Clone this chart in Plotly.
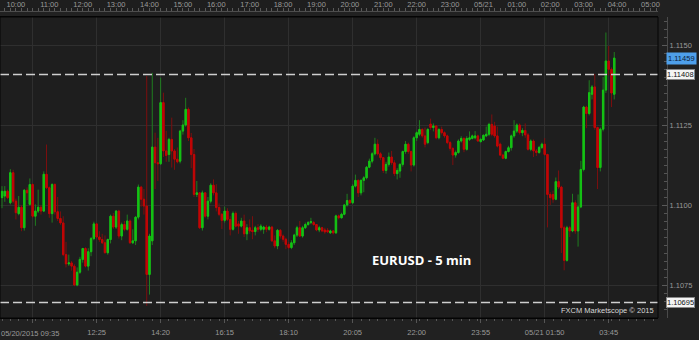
import pandas as pd
import plotly.graph_objects as go

# ---------------- data (EURUSD 5-min candles, prices given in pips above 1.1000) ----------------
start_time = "2015-05-20 09:35"
n_candles = 221
times = pd.date_range(start_time, periods=n_candles, freq="5min")

open_pips = [
    102.3, 102.8, 104.3, 100.7, 110.1, 101.2, 97.3, 99.3, 92.9, 104.6,
    100.2, 106.4, 96.5, 98.1, 99.3, 98.1, 109.6, 105.4, 97.3, 106.4,
    97.9, 95.8, 94.4, 84.5, 81.6, 81.9, 80.9, 75.0, 79.0, 83.0,
    86.4, 80.9, 85.4, 89.5, 94.1, 90.0, 89.2, 88.2, 85.1, 89.2,
    96.5, 93.1, 98.1, 90.3, 93.9, 92.4, 95.0, 88.2, 88.8, 96.2,
    105.6, 101.8, 99.7, 78.3, 88.8, 118.1, 113.2, 112.9, 132.0, 116.9,
    115.8, 120.5, 116.9, 114.3, 113.7, 123.1, 125.0, 129.9, 121.0, 115.8,
    103.3, 103.8, 92.9, 103.8, 96.5, 101.2, 106.2, 103.8, 99.2, 97.1,
    95.2, 98.1, 95.5, 92.4, 97.4, 94.1, 93.4, 95.0, 91.0, 92.9,
    92.1, 91.7, 92.9, 92.4, 92.4, 93.1, 92.4, 93.1, 88.8, 87.2,
    92.1, 90.3, 89.3, 87.7, 86.7, 88.2, 90.6, 92.9, 90.3, 92.9,
    93.9, 94.5, 94.5, 93.9, 92.2, 92.9, 92.2, 92.1, 91.3, 91.9,
    91.3, 96.6, 96.0, 97.1, 100.0, 101.4, 100.7, 105.9, 107.7, 103.8,
    107.7, 108.5, 111.8, 113.7, 116.0, 119.0, 116.0, 114.8, 110.8, 112.7,
    115.0, 113.2, 109.8, 110.6, 112.7, 116.7, 119.0, 116.7, 112.5, 121.0,
    122.1, 123.6, 121.6, 119.5, 125.3, 124.2, 124.7, 121.0, 123.6, 122.6,
    121.6, 119.5, 117.7, 115.6, 116.4, 120.0, 120.8, 117.4, 120.5, 120.8,
    121.0, 121.6, 119.8, 120.3, 121.6, 122.1, 125.2, 124.7, 121.6, 119.0,
    115.6, 114.6, 116.7, 117.9, 121.6, 123.1, 125.0, 122.6, 123.3, 121.9,
    117.4, 120.0, 116.9, 116.4, 118.0, 119.0, 115.8, 103.3, 103.3, 101.8,
    107.3, 105.6, 92.9, 82.7, 92.9, 91.9, 100.7, 91.9, 99.4, 111.1,
    130.6, 128.6, 134.6, 136.9, 124.2, 111.7, 123.7, 135.9, 145.0, 142.4,
    134.6,
]
high_pips = [
    105.9, 105.9, 104.8, 111.2, 111.0, 102.0, 102.8, 100.0, 105.0, 105.5,
    108.3, 106.8, 100.2, 104.8, 100.0, 110.5, 118.9, 105.8, 106.8, 106.8,
    102.5, 98.0, 96.5, 88.5, 84.5, 82.5, 81.5, 80.5, 83.8, 86.6,
    86.8, 86.5, 90.0, 94.8, 94.3, 91.8, 91.0, 90.5, 89.5, 97.0,
    97.5, 98.4, 98.5, 94.5, 95.0, 97.0, 95.5, 92.4, 96.5, 106.4,
    106.0, 105.0, 140.3, 91.0, 141.3, 122.6, 121.0, 139.8, 135.1, 123.2,
    121.0, 127.3, 117.5, 118.0, 123.5, 126.5, 133.5, 130.5, 122.5, 117.5,
    107.5, 104.0, 104.5, 104.0, 102.5, 106.8, 108.0, 106.5, 100.5, 97.5,
    99.5, 99.0, 96.5, 98.0, 98.0, 95.0, 96.0, 97.0, 94.0, 95.5,
    96.5, 93.5, 94.0, 94.0, 93.5, 93.8, 93.5, 93.5, 90.5, 92.5,
    92.5, 90.8, 89.8, 88.5, 89.0, 91.0, 93.5, 95.0, 93.5, 94.5,
    95.0, 96.0, 95.0, 94.0, 93.5, 93.2, 92.9, 92.8, 92.3, 92.2,
    97.0, 97.0, 97.6, 100.3, 103.5, 101.8, 106.5, 109.5, 108.0, 108.0,
    109.0, 112.2, 114.5, 116.5, 121.0, 120.5, 116.5, 115.0, 113.5, 116.4,
    116.9, 114.0, 111.5, 113.0, 117.0, 120.0, 119.5, 117.0, 121.5, 123.0,
    126.5, 124.0, 124.2, 124.0, 127.0, 125.5, 125.0, 124.0, 124.5, 123.0,
    122.0, 120.0, 118.0, 117.0, 120.5, 121.5, 121.2, 121.5, 123.0, 122.0,
    123.1, 122.0, 121.0, 122.0, 124.5, 125.7, 128.3, 126.0, 124.5, 119.5,
    116.0, 117.0, 118.5, 122.0, 126.5, 125.5, 125.5, 124.0, 125.5, 122.5,
    120.5, 120.5, 117.5, 118.5, 119.5, 120.9, 116.0, 104.0, 104.5, 108.6,
    110.8, 106.0, 93.5, 93.5, 93.5, 103.5, 101.5, 103.3, 113.8, 131.0,
    131.0, 139.0, 137.5, 140.9, 124.5, 124.2, 140.0, 153.9, 149.7, 143.0,
    147.8,
]
low_pips = [
    99.0, 101.0, 101.8, 100.2, 100.5, 95.5, 96.8, 91.8, 92.0, 101.5,
    99.8, 96.0, 93.5, 97.5, 97.0, 97.8, 105.0, 96.0, 94.5, 97.0,
    95.0, 93.8, 84.0, 80.5, 81.0, 79.5, 74.6, 74.6, 78.5, 82.0,
    80.5, 79.5, 84.0, 89.0, 89.5, 88.5, 87.8, 84.8, 84.5, 88.0,
    92.5, 92.5, 89.5, 89.0, 91.8, 92.0, 87.8, 87.8, 87.5, 95.5,
    99.5, 97.0, 68.5, 72.0, 87.5, 105.0, 107.5, 112.5, 115.0, 113.5,
    113.5, 111.7, 111.0, 113.0, 113.0, 122.0, 124.5, 120.0, 111.5, 102.5,
    102.5, 92.5, 92.0, 96.0, 95.5, 100.5, 103.0, 98.0, 96.5, 92.5,
    94.5, 95.0, 90.5, 92.0, 93.0, 91.0, 93.0, 90.0, 89.0, 91.0,
    89.3, 90.5, 91.5, 91.8, 91.0, 91.5, 92.0, 88.5, 86.5, 86.2,
    89.5, 88.5, 86.2, 86.2, 86.2, 87.5, 90.0, 90.0, 89.8, 92.5,
    93.5, 94.0, 93.5, 91.8, 91.5, 91.5, 91.0, 91.3, 91.0, 90.8,
    91.0, 95.5, 95.8, 96.8, 99.5, 100.3, 100.3, 105.5, 102.5, 103.0,
    104.0, 108.0, 111.5, 113.0, 115.5, 115.5, 114.0, 110.0, 109.8, 112.0,
    112.5, 109.0, 108.0, 108.5, 112.0, 116.0, 116.0, 110.5, 112.0, 120.0,
    121.5, 121.0, 118.0, 119.0, 123.5, 123.0, 120.5, 120.5, 122.0, 121.0,
    119.0, 117.0, 112.5, 114.8, 116.0, 119.5, 116.5, 117.0, 120.0, 120.5,
    120.5, 119.8, 119.5, 120.0, 121.2, 121.5, 121.5, 121.0, 118.0, 115.3,
    114.3, 114.3, 116.4, 117.0, 121.0, 122.5, 122.0, 121.5, 121.0, 117.0,
    116.8, 115.0, 115.3, 116.0, 117.5, 115.3, 93.0, 100.0, 100.7, 101.5,
    105.0, 85.0, 79.6, 82.3, 90.0, 91.5, 91.0, 87.0, 99.0, 110.5,
    124.0, 128.0, 133.0, 123.5, 105.0, 110.5, 123.0, 135.0, 140.5, 130.6,
    133.0,
]
close_pips = [
    104.3, 104.3, 102.3, 110.1, 101.2, 97.6, 99.3, 92.9, 104.6, 103.8,
    106.4, 96.5, 98.1, 99.3, 98.1, 109.6, 105.4, 97.3, 106.4, 97.9,
    95.8, 94.4, 84.5, 81.6, 81.9, 80.9, 75.0, 79.0, 83.0, 86.4,
    80.9, 85.4, 89.5, 94.1, 90.0, 89.2, 88.2, 85.1, 89.2, 96.5,
    93.1, 98.1, 90.3, 93.9, 92.4, 95.0, 88.2, 88.8, 96.2, 105.6,
    101.8, 99.7, 78.3, 90.3, 118.1, 113.2, 112.9, 132.0, 116.9, 115.5,
    120.5, 116.9, 114.3, 113.5, 123.1, 125.0, 129.9, 121.0, 115.8, 103.3,
    103.8, 92.9, 103.8, 96.5, 101.2, 106.2, 103.8, 99.2, 97.1, 95.2,
    98.1, 95.5, 92.4, 97.4, 93.4, 93.4, 95.0, 91.0, 92.9, 91.9,
    91.7, 92.9, 92.4, 93.4, 93.1, 92.4, 93.1, 88.8, 87.2, 92.1,
    90.3, 89.3, 87.7, 86.7, 88.2, 90.6, 92.9, 90.3, 92.9, 93.9,
    94.5, 94.8, 93.9, 92.2, 92.9, 91.9, 91.6, 91.6, 91.9, 91.3,
    96.6, 96.0, 97.1, 100.0, 101.4, 100.7, 105.9, 107.7, 103.8, 107.7,
    108.5, 111.8, 113.7, 116.0, 119.0, 116.0, 114.8, 110.8, 112.7, 115.0,
    113.2, 109.8, 110.8, 112.7, 116.7, 119.0, 116.7, 112.5, 121.0, 122.6,
    123.6, 121.6, 119.0, 123.6, 124.2, 124.7, 121.0, 123.6, 122.6, 121.6,
    119.5, 117.7, 115.6, 116.4, 120.0, 120.8, 117.4, 120.8, 121.0, 121.6,
    121.6, 120.0, 120.5, 121.8, 122.1, 125.2, 122.1, 121.6, 118.4, 115.6,
    114.6, 116.7, 117.9, 121.6, 123.1, 125.0, 122.6, 123.3, 121.9, 117.4,
    120.0, 116.9, 116.4, 118.0, 119.0, 115.8, 103.3, 102.3, 101.8, 107.3,
    105.6, 92.9, 82.7, 92.9, 91.9, 100.7, 91.9, 99.4, 111.1, 130.6,
    128.6, 135.1, 136.9, 124.2, 111.7, 123.7, 135.9, 145.0, 142.4, 135.0,
    145.9,
]
for arr in (open_pips, high_pips, low_pips, close_pips):
    assert len(arr) == n_candles, len(arr)

PIP_BASE = 1.1000
def to_price(pips):
    return [round(PIP_BASE + p / 10000.0, 5) for p in pips]

open_ = to_price(open_pips)
high = to_price(high_pips)
low = to_price(low_pips)
close = to_price(close_pips)

level_lines = [1.11408, 1.10695]
current_price = 1.11459
y_tick_vals = [1.1075, 1.1100, 1.1125, 1.1150]
y_tick_text = ["1.1075", "1.1100", "1.1125", "1.1150"]

bottom_tick_times = ["2015-05-20 10:30", "2015-05-20 12:25", "2015-05-20 14:20", "2015-05-20 16:15",
                     "2015-05-20 18:10", "2015-05-20 20:05", "2015-05-20 22:00", "2015-05-20 23:55",
                     "2015-05-21 01:50", "2015-05-21 03:45"]
bottom_tick_text = ["", "12:25", "14:20", "16:15", "18:10", "20:05", "22:00", "23:55",
                    "05/21 01:50", "03:45"]
first_label = "05/20/2015 09:35"

hour_times = pd.date_range("2015-05-20 10:00", "2015-05-21 05:00", freq="1h")
hour_labels = ["10:00", "11:00", "12:00", "13:00", "14:00", "15:00", "16:00", "17:00",
               "18:00", "19:00", "20:00", "21:00", "22:00", "23:00", "05/21", "01:00",
               "02:00", "03:00", "04:00", "05:00"]

x_range = ["2015-05-20 09:31:24", "2015-05-21 05:13:36"]
y_range = [1.106469, 1.115875]

# ---------------- figure ----------------
W, H = 699, 340
PLOT_H = 318
X_DOM = [0, 658 / W]
Y_DOM = [0, 301 / PLOT_H]
RULER_DOM = [1 - 10.5 / PLOT_H, 1]

TICK_FONT = dict(family="Liberation Sans, Arial, sans-serif", size=7.5, color="#9a9a9a")

body_hi = [max(a, b) for a, b in zip(open_, close)]
body_lo = [min(a, b) for a, b in zip(open_, close)]

fig = go.Figure()
# wicks (darker)
fig.add_trace(go.Candlestick(
    x=times, open=open_, high=high, low=low, close=close,
    increasing=dict(line=dict(color="#1f7d1f", width=1), fillcolor="#1f7d1f"),
    decreasing=dict(line=dict(color="#7d0f0f", width=1), fillcolor="#7d0f0f"),
    hoverinfo="skip", showlegend=False))
# bodies (bright)
fig.add_trace(go.Candlestick(
    x=times, open=open_, high=body_hi, low=body_lo, close=close,
    increasing=dict(line=dict(color="#14c314", width=1), fillcolor="#14c314"),
    decreasing=dict(line=dict(color="#c20606", width=1), fillcolor="#c20606"),
    hoverinfo="skip", showlegend=False))

# top ruler: hour markers and labels
fig.add_trace(go.Scatter(
    x=hour_times, y=[-2.0] * len(hour_times), xaxis="x4", yaxis="y3",
    mode="markers", marker=dict(symbol="triangle-down", size=7, color="#d2a21e", line=dict(width=0)),
    cliponaxis=False, hoverinfo="skip", showlegend=False))
fig.add_trace(go.Scatter(
    x=hour_times, y=[5.5] * len(hour_times), xaxis="x4", yaxis="y3",
    mode="text", text=hour_labels, textposition="middle center",
    textfont=TICK_FONT, cliponaxis=False, hoverinfo="skip", showlegend=False))

fig.update_layout(
    width=W, height=H,
    margin=dict(l=0, r=0, t=0, b=H - PLOT_H),
    paper_bgcolor="#212121", plot_bgcolor="#1e1e1e",
    showlegend=False,
    xaxis=dict(
        type="date", domain=X_DOM, range=x_range, anchor="y",
        rangeslider=dict(visible=False),
        tickmode="array", tickvals=bottom_tick_times, ticktext=bottom_tick_text,
        showgrid=True, gridcolor="#2f2f2f", gridwidth=1,
        ticks="outside", ticklen=4, tickcolor="#555555", tickwidth=1,
        tickfont=TICK_FONT, ticklabelstandoff=3,
        showline=True, linecolor="#050505", linewidth=1, mirror=True,
        minor=dict(ticks="outside", ticklen=2, tickcolor="#555555",
                   tick0=start_time, dtick=15 * 60 * 1000, showgrid=False),
        zeroline=False,
    ),
    yaxis=dict(
        domain=Y_DOM, range=y_range, side="right", anchor="free", position=667 / W,
        tickmode="array", tickvals=y_tick_vals, ticktext=y_tick_text,
        showgrid=True, gridcolor="#2f2f2f", gridwidth=1,
        ticks="inside", ticklen=5, tickcolor="#5a5a5a",
        tickfont=TICK_FONT,
        showline=True, linecolor="#4a4a4a", linewidth=1,
        minor=dict(ticks="inside", ticklen=3, tickcolor="#555555", tick0=1.1, dtick=0.00025, showgrid=False),
        zeroline=False,
    ),
    xaxis4=dict(
        type="date", domain=X_DOM, matches="x", anchor="y3",
        showgrid=False, showline=True, linecolor="#4d4d4d", linewidth=1,
        ticks="inside", ticklen=3, tickcolor="#5a5a5a",
        tickmode="linear", tick0="2015-05-20 09:00", dtick=10 * 60 * 1000,
        showticklabels=False, zeroline=False,
    ),
    yaxis3=dict(domain=RULER_DOM, range=[0, 10.5], anchor="x4", visible=False,
                showgrid=False, zeroline=False, fixedrange=True),
)

# dashed horizontal levels
for lvl in level_lines:
    fig.add_shape(type="line", xref="x domain", x0=0, x1=1, yref="y", y0=lvl, y1=lvl,
                  line=dict(color="#cfcfcf", width=1.5, dash="9px,4px"))
# plot frame
fig.add_shape(type="rect", xref="x domain", yref="y domain", x0=0, x1=1, y0=0, y1=1,
              line=dict(color="#050505", width=1), fillcolor="rgba(0,0,0,0)")

# price boxes on the right axis
LABEL_X = 666 / W
fig.add_annotation(x=LABEL_X, xref="paper", xanchor="left", y=current_price, yref="y", yanchor="middle",
                   text=f"{current_price:.5f}", showarrow=False,
                   font=dict(family="Liberation Sans, Arial, sans-serif", size=7.5, color="#0d2036"),
                   bgcolor="#4e9fea", borderpad=1)
for lvl in level_lines:
    fig.add_annotation(x=LABEL_X, xref="paper", xanchor="left", y=lvl, yref="y", yanchor="middle",
                       text=f"{lvl:.5f}", showarrow=False,
                       font=dict(family="Liberation Sans, Arial, sans-serif", size=7.5, color="#111111"),
                       bgcolor="#f4f4f4", bordercolor="#888888", borderwidth=1, borderpad=0)

# first bottom label, left-aligned at chart start
fig.add_annotation(x=times[0], xref="x", xanchor="left", xshift=-3, y=0, yref="paper",
                   yanchor="middle", yshift=-15, text=first_label, showarrow=False, font=TICK_FONT)

# chart title and copyright
fig.add_annotation(x=421 / W, xref="paper", y=(PLOT_H - 260) / PLOT_H, yref="paper",
                   xanchor="center", yanchor="middle", text="EURUSD - 5 min", showarrow=False,
                   font=dict(family="Open Sans, sans-serif", size=13, color="#ffffff", weight="bold"))
fig.add_annotation(x=656 / W, xref="paper", y=(PLOT_H - 310) / PLOT_H, yref="paper",
                   xanchor="right", yanchor="middle", text="FXCM Marketscope © 2015", showarrow=False,
                   font=dict(family="Liberation Sans, Arial, sans-serif", size=7.5, color="#d8d8d8"))

fig.write_html("out.html", config={"displayModeBar": False})
